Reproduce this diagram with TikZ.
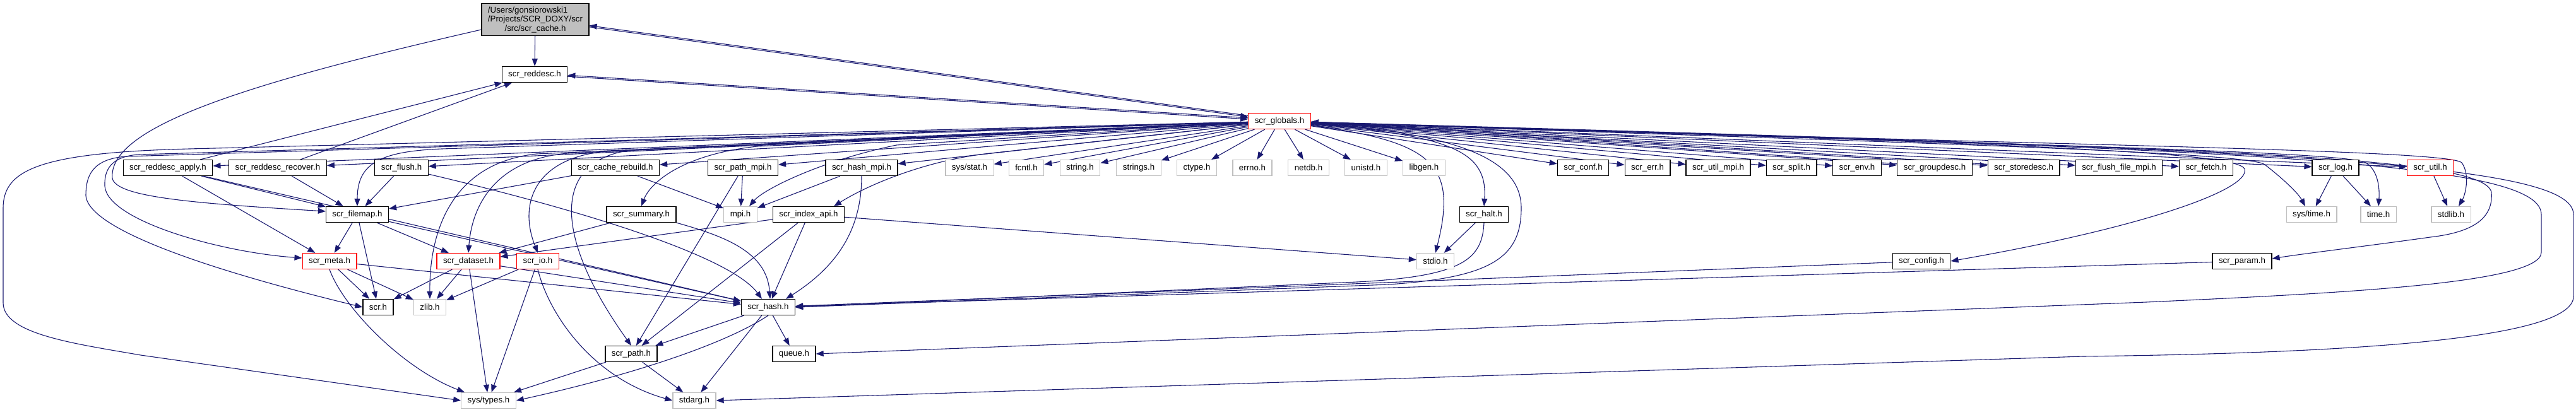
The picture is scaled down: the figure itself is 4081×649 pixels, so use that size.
\documentclass[tikz,border=0pt]{standalone}
\usepackage{fontspec}
\setmainfont{Liberation Sans}
\usetikzlibrary{arrows.meta}
\definecolor{edgecol}{HTML}{191970}
\definecolor{grayb}{HTML}{BFBFBF}
\definecolor{redb}{HTML}{FF0000}
\definecolor{rootfill}{HTML}{BFBFBF}
\newcommand{\nf}{\fontsize{13.3}{14.5}\selectfont}
\pgfdeclarelayer{edgelayer}
\pgfsetlayers{edgelayer,main}
\tikzset{
  edge/.style={draw=edgecol, line width=1.1pt, -{Triangle[length=12pt,width=9pt]}},
  backedge/.style={edge, transform canvas={yshift=2pt}},
  box/.style={draw=black, line width=1.2pt, minimum height=25pt, inner xsep=10pt, inner ysep=2pt, font=\nf, text=black, fill=white},
  sysbox/.style={box, draw=grayb},
  redbox/.style={box, draw=redb},
}
\begin{document}
\begin{tikzpicture}[x=1pt,y=-1pt]
\useasboundingbox (0,0) rectangle (4081,649);
% row 0,1,2
\node[box, fill=rootfill, align=center, minimum height=51pt] (root) at (848,31)
  {\makebox[0pt][l]{/Users/gonsiorowski1}\phantom{/Projects/SCR\_DOXY/scr}\\/Projects/SCR\_DOXY/scr\\/src/scr\_cache.h};
\node[box] (reddesc) at (847,118) {scr\_reddesc.h};
\node[redbox] (globals) at (2027,192) {scr\_globals.h};
% row 3
\node[box] (apply) at (266,266) {scr\_reddesc\_apply.h};
\node[box] (recover) at (440,266) {scr\_reddesc\_recover.h};
\node[box] (flush) at (636,266) {scr\_flush.h};
\node[box] (rebuild) at (975,266) {scr\_cache\_rebuild.h};
\node[box] (pathmpi) at (1177,266) {scr\_path\_mpi.h};
\node[box] (hashmpi) at (1365,266) {scr\_hash\_mpi.h};
\node[sysbox] (sysstat) at (1536,266) {sys/stat.h};
\node[sysbox] (fcntl) at (1626,266) {fcntl.h};
\node[sysbox] (string) at (1711,266) {string.h};
\node[sysbox] (strings) at (1804,266) {strings.h};
\node[sysbox] (ctype) at (1896,266) {ctype.h};
\node[sysbox] (errno) at (1984,266) {errno.h};
\node[sysbox] (netdb) at (2073,266) {netdb.h};
\node[sysbox] (unistd) at (2164,266) {unistd.h};
\node[sysbox] (libgen) at (2256,266) {libgen.h};
\node[box] (conf) at (2508,266) {scr\_conf.h};
\node[box] (err) at (2610,266) {scr\_err.h};
\node[box] (utilmpi) at (2722,266) {scr\_util\_mpi.h};
\node[box] (split) at (2838,266) {scr\_split.h};
\node[box] (env) at (2942,266) {scr\_env.h};
\node[box] (groupdesc) at (3065,266) {scr\_groupdesc.h};
\node[box] (storedesc) at (3206,266) {scr\_storedesc.h};
\node[box] (ffmpi) at (3357,266) {scr\_flush\_file\_mpi.h};
\node[box] (fetch) at (3495,266) {scr\_fetch.h};
\node[box] (log) at (3700,266) {scr\_log.h};
\node[redbox] (util) at (3850,266) {scr\_util.h};
% row 4
\node[box] (filemap) at (566,340) {scr\_filemap.h};
\node[box] (summary) at (1016,340) {scr\_summary.h};
\node[sysbox] (mpi) at (1173,340) {mpi.h};
\node[box] (indexapi) at (1281,340) {scr\_index\_api.h};
\node[box] (halt) at (2351,340) {scr\_halt.h};
\node[sysbox] (systime) at (3662,340) {sys/time.h};
\node[sysbox] (time) at (3768,340) {time.h};
\node[sysbox] (stdlib) at (3883,340) {stdlib.h};
% row 5
\node[redbox] (meta) at (522,414) {scr\_meta.h};
\node[redbox] (dataset) at (742,414) {scr\_dataset.h};
\node[redbox] (io) at (852,414) {scr\_io.h};
\node[sysbox] (stdio) at (2274,414) {stdio.h};
\node[box] (config) at (3044,414) {scr\_config.h};
\node[box] (param) at (3552,414) {scr\_param.h};
% row 6
\node[box] (scrh) at (599,487) {scr.h};
\node[sysbox] (zlib) at (681,487) {zlib.h};
\node[box] (hash) at (1217,487) {scr\_hash.h};
% row 7
\node[box] (path) at (1000,561) {scr\_path.h};
\node[box] (queue) at (1258,561) {queue.h};
% row 8
\node[sysbox] (systypes) at (774,635) {sys/types.h};
\node[sysbox] (stdarg) at (1100,635) {stdarg.h};

\begin{pgfonlayer}{edgelayer}
% ---- edges from root
\draw[edge] (root) -- (reddesc);
\draw[edge] (root) -- (globals);
\draw[backedge] (globals) -- (root);
\draw[edge] ([yshift=-16pt]root.west) .. controls (400,130) and (170,200) .. (178,283) .. controls (185,312) and (300,322) .. ([yshift=5pt]filemap.west);
% ---- reddesc
\draw[edge] (apply) -- (reddesc);
\draw[edge] (recover) -- (reddesc);
\draw[edge] (reddesc) -- (globals);
\draw[backedge] (globals) -- (reddesc);
% ---- globals to row 3
\foreach \n in {apply,recover,flush,rebuild,pathmpi,hashmpi,sysstat,fcntl,string,strings,ctype,errno,netdb,unistd,libgen,conf,err,utilmpi,split,env,groupdesc,storedesc,ffmpi,fetch,log,util}
  \draw[edge] (globals) -- (\n);
\draw[backedge] (groupdesc) -- (globals);
\draw[backedge] (storedesc) -- (globals);
% ---- globals loops on the left
\draw[edge] (globals) -- (300,236) .. controls (60,242) and (5,270) .. (5,330) -- (5,480) .. controls (5,530) and (120,545) .. (223,563) -- (systypes.west);
\draw[edge] (globals) -- (200,248) .. controls (145,252) and (136,280) .. (136,310) .. controls (140,370) and (380,440) .. (scrh.west);
\draw[edge] (globals) -- (220,245) .. controls (175,248) and (165,270) .. (166,295) .. controls (170,350) and (350,400) .. ([yshift=5pt]meta.west);
\draw[edge] (globals) -- (700,236) .. controls (600,240) and (566,260) .. (filemap.north);
\draw[edge] (globals) -- (850,244) .. controls (720,258) and (680,360) .. (zlib.north);
\draw[edge] (globals) -- (900,243) .. controls (790,252) and (748,320) .. (dataset.north);
\draw[edge] (globals) -- (960,240) .. controls (850,250) and (820,320) .. (io.north);
\draw[edge] (globals) -- (1000,238) .. controls (870,255) and (880,380) .. (path.north);
\draw[edge] (globals) -- (1200,232) .. controls (1080,245) and (1030,290) .. (summary.north);
\draw[edge] (globals) -- (1420,230) .. controls (1300,255) and (1210,300) .. ([xshift=14pt]mpi.north);
\draw[edge] (globals) -- (1560,244) .. controls (1470,255) and (1380,290) .. ([xshift=40pt]indexapi.north);
% ---- globals loops on the right
\draw[edge] (globals) .. controls (2300,215) and (2357,240) .. (halt.north);
\draw[edge] (globals) .. controls (2270,225) and (2310,260) .. (stdio.north);
\draw[edge] (globals) .. controls (2330,212) and (2410,260) .. (2410,330) .. controls (2410,410) and (2360,440) .. (2200,451) -- (hash.east);
\draw[edge] (globals) .. controls (3200,228) and (3545,240) .. (3556,268) .. controls (3565,300) and (3400,360) .. (config.east);
\draw[edge] (globals) .. controls (3400,236) and (3935,240) .. (3947,305) .. controls (3950,345) and (3920,368) .. (3850,376) .. controls (3750,390) and (3650,402) .. ([yshift=4pt]param.east);
\draw[edge] (globals) .. controls (3500,236) and (4026,250) .. (4026,340) -- (4026,400) .. controls (4026,450) and (3700,465) .. (3400,479) -- (queue.east);
\draw[edge] (globals) .. controls (3600,236) and (4077,255) .. (4077,340) -- (4077,470) .. controls (4077,540) and (3700,560) .. (3300,565) -- (stdarg.east);
\draw[edge] (globals) .. controls (3000,226) and (3560,240) .. (3588,261) .. controls (3615,282) and (3640,305) .. ([xshift=-10pt]systime.north);
\draw[edge] (globals) .. controls (3100,228) and (3710,238) .. (3748,258) .. controls (3768,270) and (3770,300) .. (time.north);
\draw[edge] (globals) .. controls (3200,230) and (3880,236) .. (3900,258) .. controls (3914,278) and (3905,310) .. ([xshift=12pt]stdlib.north);
% ---- row 3 sources
\draw[edge] (apply) -- (filemap);
\draw[edge] (apply) -- (meta);
\draw[edge] (apply) -- (hash);
\draw[edge] (recover) -- (filemap);
\draw[edge] (flush) -- (filemap);
\draw[edge] (flush) .. controls (950,340) and (1160,410) .. ([xshift=-10pt]hash.north);
\draw[edge] (rebuild) -- (filemap);
\draw[edge] (rebuild) -- (mpi);
\draw[edge] (pathmpi) -- (mpi);
\draw[edge] (pathmpi) -- (path);
\draw[edge] (hashmpi) -- (mpi);
\draw[edge] (hashmpi.south) .. controls (1365,360) and (1330,420) .. ([xshift=28pt]hash.north);
\draw[edge] (log) -- (systime);
\draw[edge] (log) -- (time);
\draw[edge] (util) -- (stdlib);
% ---- row 4 sources
\draw[edge] (summary) -- (dataset);
\draw[edge] (summary.south east) .. controls (1150,375) and (1215,400) .. ([xshift=3pt]hash.north);
\draw[edge] (indexapi) -- (dataset);
\draw[edge] (indexapi) -- (hash);
\draw[edge] (indexapi) -- (path);
\draw[edge] (indexapi) -- (stdio);
\draw[edge] (filemap) -- (meta);
\draw[edge] (filemap) -- (scrh);
\draw[edge] (filemap) -- (dataset);
\draw[edge] (filemap) -- (hash);
\draw[edge] (halt) -- (stdio);
\draw[edge] (halt.south) .. controls (2348,410) and (2320,438) .. (2150,447) -- (hash.east);
% ---- row 5 sources
\draw[edge] (meta) -- (scrh);
\draw[edge] (meta) -- (zlib);
\draw[edge] (meta) -- (hash);
\draw[edge] (meta.south) .. controls (545,490) and (640,585) .. ([xshift=6pt]systypes.north west);
\draw[edge] (dataset) -- (scrh);
\draw[edge] (dataset) -- (zlib);
\draw[edge] (dataset) -- (systypes);
\draw[edge] (dataset) -- (hash);
\draw[edge] (io) -- (zlib);
\draw[edge] (io) -- (systypes);
\draw[edge] (io.south) .. controls (870,500) and (940,600) .. (stdarg.west);
\draw[edge] (config) -- (hash);
\draw[edge] (param) -- (hash);
% ---- row 6/7 sources
\draw[edge] (hash) -- (path);
\draw[edge] (hash.south) .. controls (1150,545) and (1000,595) .. (systypes.east);
\draw[edge] (hash) -- (stdarg);
\draw[edge] (hash) -- (queue);
\draw[edge] (path) -- (systypes);
\draw[edge] (path) -- (stdarg);
\end{pgfonlayer}
\end{tikzpicture}
\end{document}
